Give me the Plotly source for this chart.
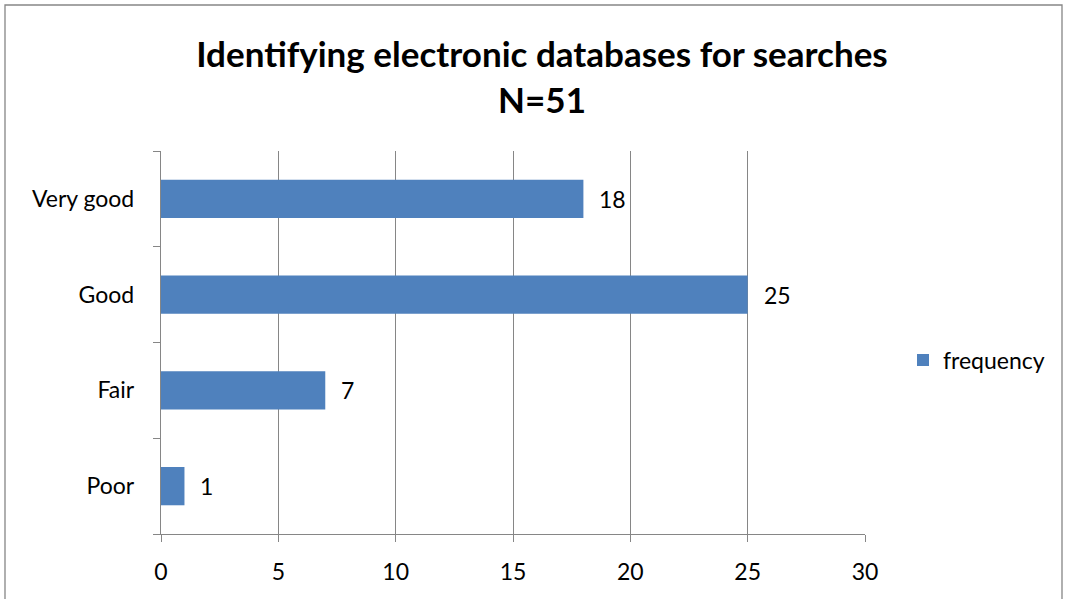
import plotly.graph_objects as go

categories = ["Poor", "Fair", "Good", "Very good"]
frequency = [1, 7, 25, 18]
x_ticks = [0, 5, 10, 15, 20, 25, 30]

W, H = 1067, 599
L, R, T, B = 161, 1067 - 865, 151, 599 - 534
pw, ph = W - L - R, H - T - B

def px(xp):
    return (xp - L) / pw

def py(yp):
    return (H - B - yp) / ph

FONT = "Lato, Open Sans, sans-serif"
BAR = "#4F81BD"
GRID = "#868686"
FS = 23

fig = go.Figure()
fig.add_trace(go.Bar(
    y=categories, x=frequency, orientation="h", name="frequency",
    marker=dict(color=BAR, line=dict(width=0)),
    width=0.4,
))

for c, v in zip(categories, frequency):
    fig.add_annotation(x=v, y=c, text=str(v), showarrow=False,
                       xanchor="left", xshift=14,
                       font=dict(family=FONT, size=FS, color="#000"))

fig.update_layout(
    width=W, height=H,
    margin=dict(l=L, r=R, t=T, b=B, autoexpand=False),
    paper_bgcolor="white", plot_bgcolor="white",
    font=dict(family=FONT, color="#000"),
    title=dict(text="<b>Identifying electronic databases for searches<br>N=51</b>",
               x=542 / W, xanchor="center",
               y=1 - 67 / H, yanchor="middle",
               font=dict(family=FONT, size=35, color="#000")),
    showlegend=True,
    legend=dict(x=px(903), y=py(360), xanchor="left", yanchor="middle",
                font=dict(family=FONT, size=FS, color="#000"),
                itemwidth=30, bgcolor="rgba(0,0,0,0)"),
    bargap=0.6,
)
fig.update_xaxes(range=[0, 30], tickvals=x_ticks, showgrid=True, gridcolor=GRID,
                 gridwidth=1.4, zeroline=False, showline=True, linecolor=GRID,
                 linewidth=1.4, ticks="outside", ticklen=7, tickcolor=GRID,
                 tickwidth=1.4, tickfont=dict(family=FONT, size=FS, color="#000"),
                 ticklabelstandoff=10)
fig.update_yaxes(categoryorder="array", categoryarray=categories,
                 showgrid=False, zeroline=False, showline=True, linecolor=GRID,
                 linewidth=1.4, ticks="outside", ticklen=7, tickcolor=GRID,
                 tickwidth=1.4, tickson="boundaries",
                 tickfont=dict(family=FONT, size=FS, color="#000"),
                 ticklabelstandoff=21)

fig.add_shape(type="rect", xref="paper", yref="paper",
              x0=px(5), x1=px(1062), y0=py(605), y1=py(5),
              line=dict(color="#868686", width=1.3), fillcolor="rgba(0,0,0,0)",
              layer="below")

fig.write_html("out.html")
